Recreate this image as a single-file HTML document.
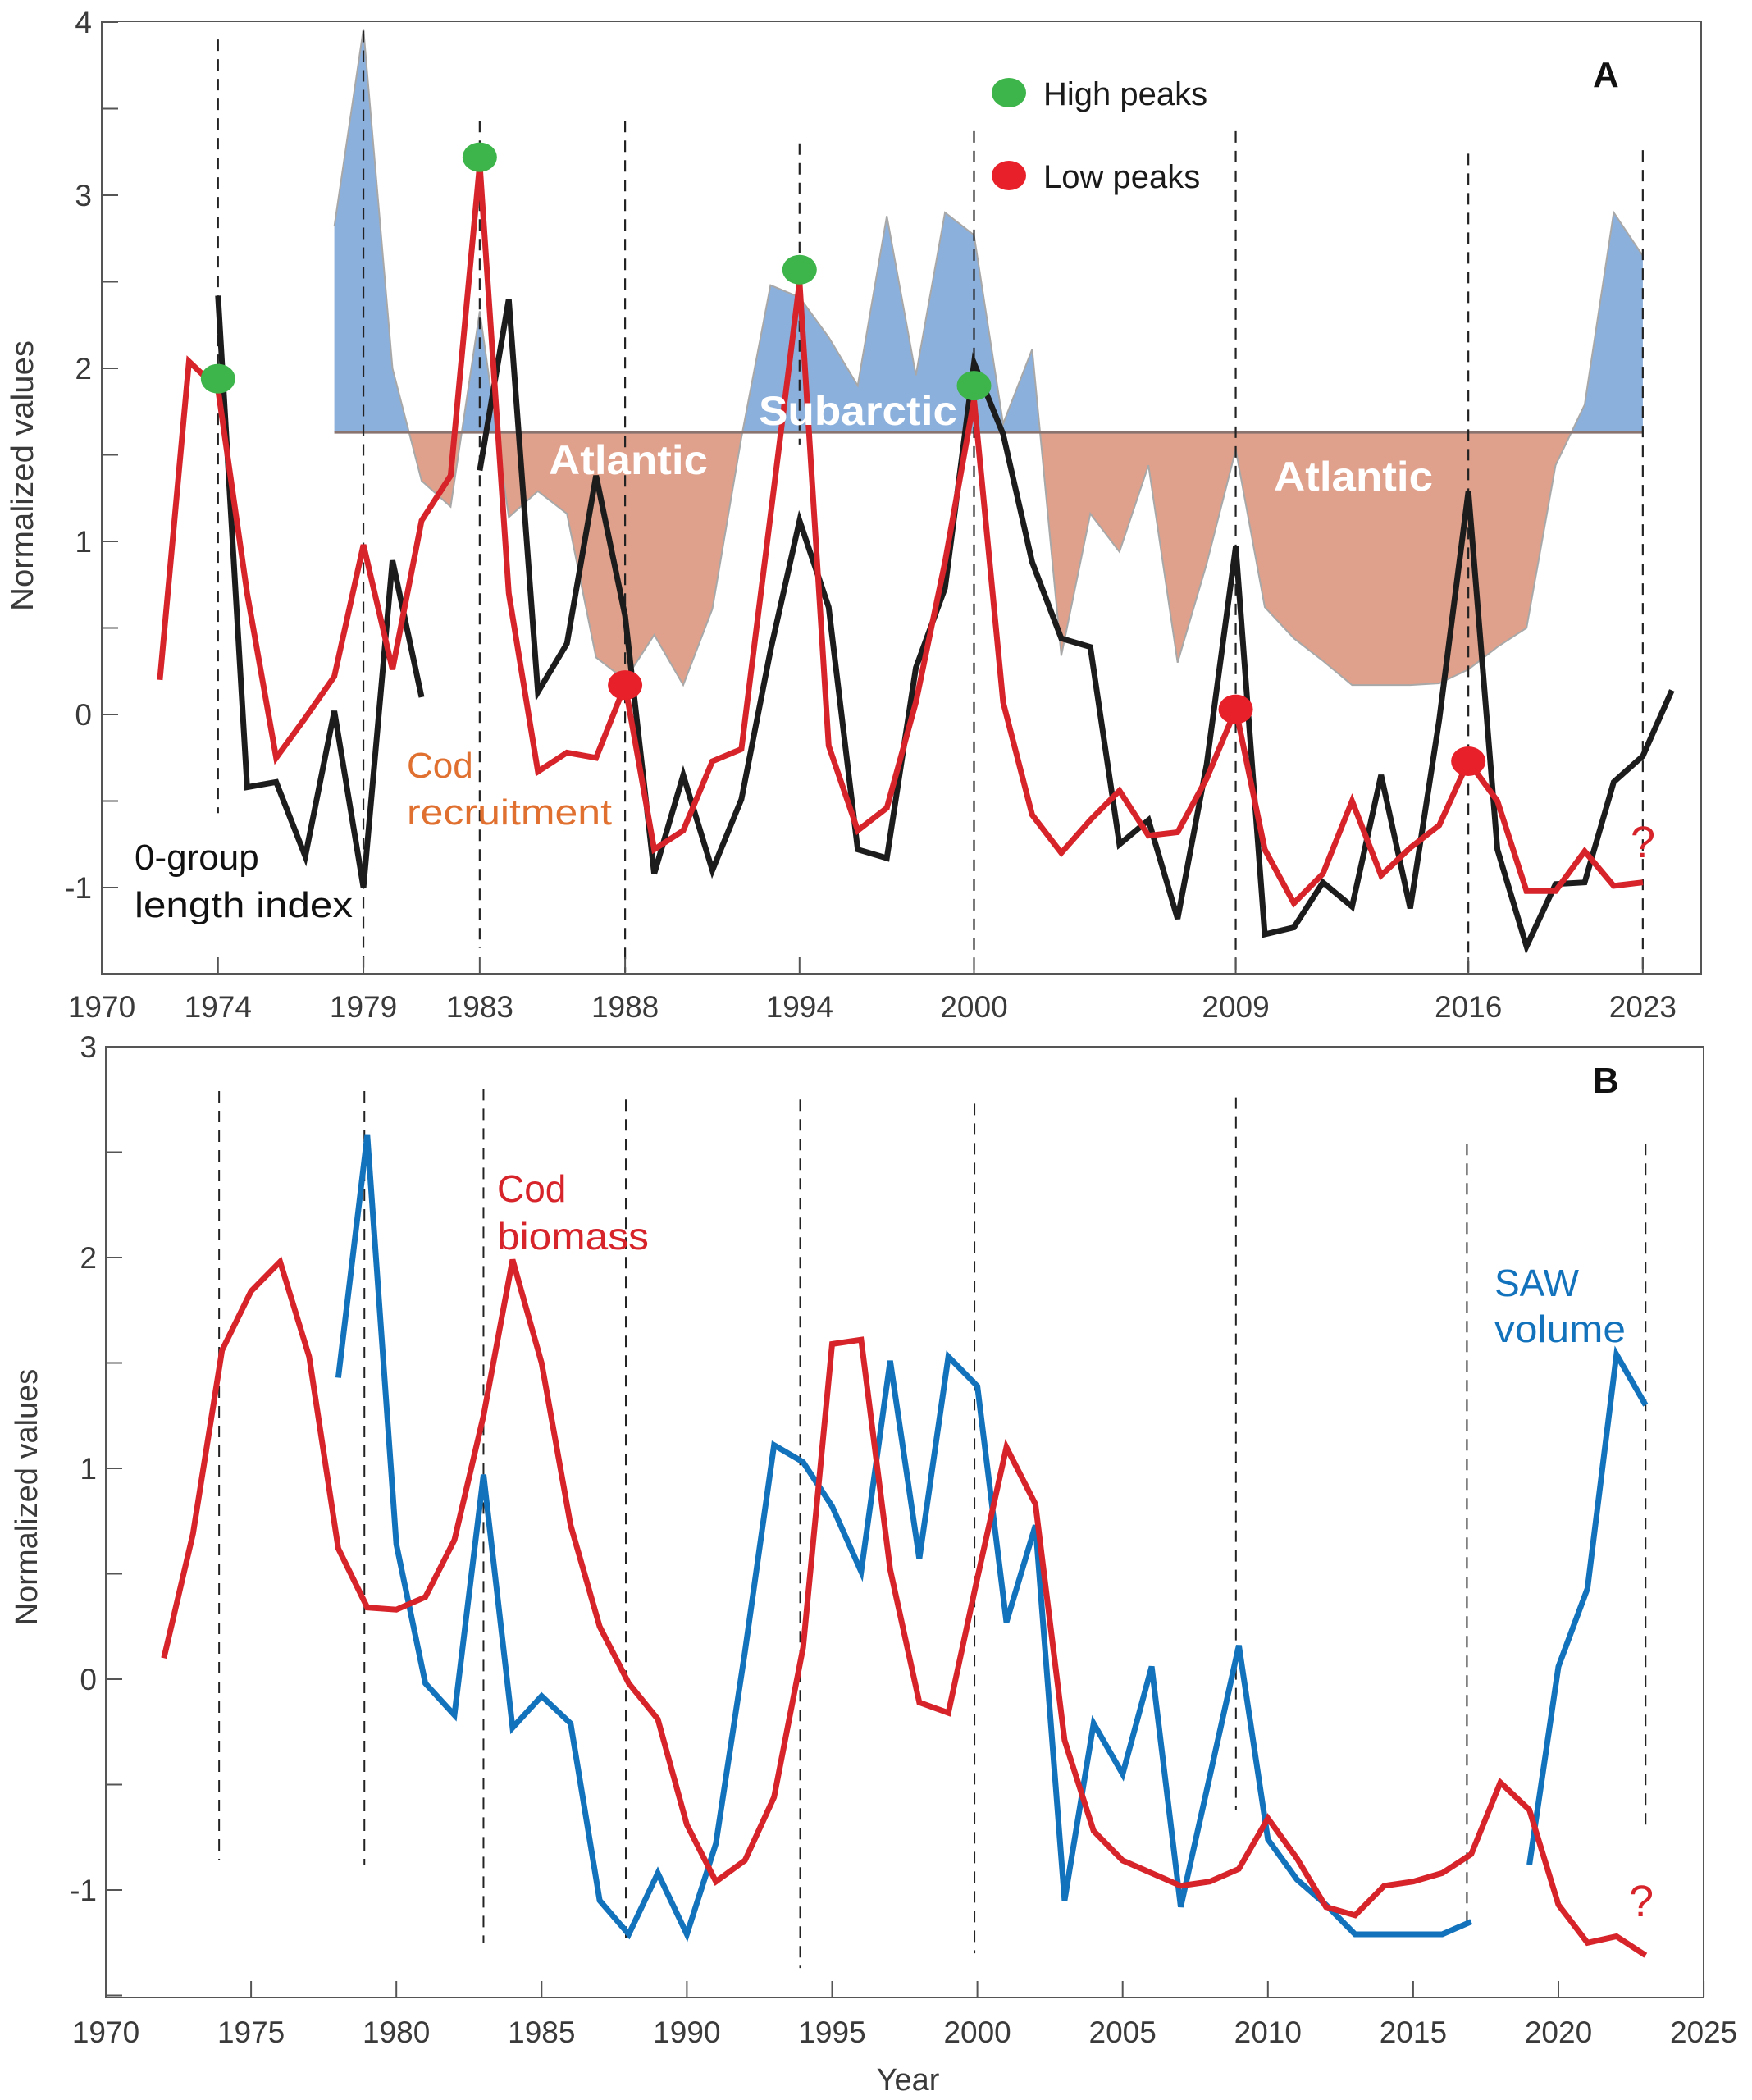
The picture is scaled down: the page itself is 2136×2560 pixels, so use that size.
<!DOCTYPE html>
<html><head><meta charset="utf-8">
<style>
html,body{margin:0;padding:0;background:#fff;}
svg{display:block;}
text{font-family:"Liberation Sans",Arial,sans-serif;}
</style></head>
<body>
<svg id="chart" width="2136" height="2560" viewBox="0 0 2136 2560" xmlns="http://www.w3.org/2000/svg">
<defs>
<clipPath id="clipAbove"><rect x="0" y="0" width="2136" height="527"/></clipPath>
<clipPath id="clipBelow"><rect x="0" y="527" width="2136" height="700"/></clipPath>
</defs>
<g id="panelA"></g>
<g id="panelB"></g>
</svg>
<script>
// ---------- Panel A data ----------
const recruitYears = [1972,1973,1974,1975,1976,1977,1978,1979,1980,1981,1982,1983,1984,1985,1986,1987,1988,1989,1990,1991,1992,1993,1994,1995,1996,1997,1998,1999,2000,2001,2002,2003,2004,2005,2006,2007,2008,2009,2010,2011,2012,2013,2014,2015,2016,2017,2018,2019,2020,2021,2022,2023];
const recruitValues = [0.2,2.04,1.88,0.7,-0.25,-0.02,0.22,0.98,0.26,1.12,1.38,3.18,0.7,-0.33,-0.22,-0.25,0.17,-0.78,-0.67,-0.27,-0.2,1.15,2.5,-0.18,-0.67,-0.54,0.07,0.88,1.82,0.07,-0.58,-0.8,-0.61,-0.44,-0.7,-0.68,-0.37,0.03,-0.78,-1.09,-0.92,-0.5,-0.93,-0.77,-0.64,-0.27,-0.5,-1.02,-1.02,-0.79,-0.99,-0.97];
const lengthYears1 = [1974,1975,1976,1977,1978,1979,1980,1981];
const lengthValues1 = [2.42,-0.42,-0.39,-0.82,0.02,-1.0,0.89,0.1];
const lengthYears2 = [1983,1984,1985,1986,1987,1988,1989,1990,1991,1992,1993,1994,1995,1996,1997,1998,1999,2000,2001,2002,2003,2004,2005,2006,2007,2008,2009,2010,2011,2012,2013,2014,2015,2016,2017,2018,2019,2020,2021,2022,2023,2024];
const lengthValues2 = [1.41,2.4,0.13,0.41,1.38,0.57,-0.92,-0.35,-0.9,-0.49,0.37,1.12,0.62,-0.78,-0.83,0.27,0.73,2.03,1.62,0.88,0.44,0.39,-0.75,-0.61,-1.18,-0.29,0.97,-1.27,-1.23,-0.97,-1.11,-0.35,-1.12,-0.03,1.29,-0.78,-1.34,-0.98,-0.97,-0.39,-0.24,0.14];
const areaYears = [1978,1979,1980,1981,1982,1983,1984,1985,1986,1987,1988,1989,1990,1991,1992,1993,1994,1995,1996,1997,1998,1999,2000,2001,2002,2003,2004,2005,2006,2007,2008,2009,2010,2011,2012,2013,2014,2015,2016,2017,2018,2019,2020,2021,2022,2023];
const areaValues = [2.82,3.96,2.0,1.35,1.2,2.33,1.14,1.29,1.16,0.33,0.2,0.46,0.17,0.61,1.6,2.48,2.41,2.18,1.9,2.88,1.96,2.9,2.77,1.68,2.11,0.34,1.16,0.94,1.44,0.3,0.87,1.53,0.62,0.44,0.31,0.17,0.17,0.17,0.18,0.26,0.39,0.5,1.44,1.79,2.9,2.65];
const areaBaseline = 1.63;
const highPeakYears = [1974,1983,1994,2000];
const highPeakValues = [1.94,3.22,2.57,1.9];
const lowPeakYears = [1988,2009,2017];
const lowPeakValues = [0.17,0.03,-0.27];
const aTickPos = [1970,1974,1979,1983,1988,1994,2000,2009,2017,2023];
const aTickLabels = ["1970","1974","1979","1983","1988","1994","2000","2009","2016","2023"];
const aYTicks = [-1,0,1,2,3,4];
const aDashYears = [1974,1979,1983,1988,1994,2000,2009,2017,2023];
const aDashTop = [3.9,3.95,3.43,3.43,3.3,3.37,3.37,3.24,3.26];
const aDashBottom = [-0.57,-1.49,-1.35,-1.49,1.56,-1.49,-1.49,-1.49,-1.49];

// ---------- Panel B data ----------
const biomassYears = [1972,1973,1974,1975,1976,1977,1978,1979,1980,1981,1982,1983,1984,1985,1986,1987,1988,1989,1990,1991,1992,1993,1994,1995,1996,1997,1998,1999,2000,2001,2002,2003,2004,2005,2006,2007,2008,2009,2010,2011,2012,2013,2014,2015,2016,2017,2018,2019,2020,2021,2022,2023];
const biomassValues = [0.1,0.69,1.56,1.84,1.98,1.53,0.62,0.34,0.33,0.39,0.66,1.25,1.99,1.5,0.73,0.25,-0.02,-0.19,-0.69,-0.96,-0.86,-0.56,0.15,1.59,1.61,0.52,-0.11,-0.16,0.48,1.1,0.83,-0.29,-0.72,-0.86,-0.92,-0.98,-0.96,-0.9,-0.66,-0.85,-1.08,-1.12,-0.98,-0.96,-0.92,-0.83,-0.49,-0.62,-1.07,-1.25,-1.22,-1.31];
const sawYears1 = [1978,1979,1980,1981,1982,1983,1984,1985,1986,1987,1988,1989,1990,1991,1992,1993,1994,1995,1996,1997,1998,1999,2000,2001,2002,2003,2004,2005,2006,2007,2008,2009,2010,2011,2012,2013,2014,2015,2016,2017];
const sawValues1 = [1.43,2.58,0.64,-0.02,-0.17,0.97,-0.23,-0.08,-0.21,-1.05,-1.21,-0.92,-1.21,-0.78,0.13,1.11,1.03,0.82,0.51,1.51,0.57,1.53,1.39,0.27,0.73,-1.05,-0.21,-0.45,0.06,-1.08,-0.46,0.16,-0.76,-0.95,-1.07,-1.21,-1.21,-1.21,-1.21,-1.15];
const sawYears2 = [2019,2020,2021,2022,2023];
const sawValues2 = [-0.88,0.06,0.43,1.54,1.3];
const bTickYears = [1970,1975,1980,1985,1990,1995,2000,2005,2010,2015,2020,2025];
const bYTicks = [-1,0,1,2,3];
const bDashYears = [1973.9,1978.9,1983,1987.9,1993.9,1999.9,2008.9,2016.85,2023];
const bDashTop = [2.79,2.79,2.8,2.75,2.75,2.73,2.76,2.54,2.54];
const bDashBottom = [-0.86,-0.88,-1.25,-1.25,-1.37,-1.3,-0.62,-1.16,-0.7];

// ---------- axes ----------
const A = {x0:124, px:35.45, y0:871, py:211, left:124, right:2074, top:26, bottom:1187};
const B = {x0:129, px:35.42, y0:2047, py:257, left:129, right:2077, top:1276, bottom:2435};
function xA(yr){return A.x0+(yr-1970)*A.px;}
function yA(v){return A.y0-v*A.py;}
function xB(yr){return B.x0+(yr-1970)*B.px;}
function yB(v){return B.y0-v*B.py;}

const NS="http://www.w3.org/2000/svg";
function mk(parent,tag,attrs,txt){const e=document.createElementNS(NS,tag);for(const k in attrs)e.setAttribute(k,attrs[k]);if(txt!==undefined)e.textContent=txt;parent.appendChild(e);return e;}
function pts(xs,ys,fx,fy){return xs.map((x,i)=>fx(x).toFixed(1)+","+fy(ys[i]).toFixed(1)).join(" ");}

const gA=document.getElementById('panelA');
const gB=document.getElementById('panelB');

// ===== Panel A =====
const baseY=yA(areaBaseline);
document.querySelector('#clipAbove rect').setAttribute('height',baseY);
document.querySelector('#clipBelow rect').setAttribute('y',baseY);
let areaPts=xA(areaYears[0]).toFixed(1)+","+baseY.toFixed(1)+" "+pts(areaYears,areaValues,xA,yA)+" "+xA(areaYears[areaYears.length-1]).toFixed(1)+","+baseY.toFixed(1);
const ab=mk(gA,'polygon',{points:areaPts,fill:'#8cb0dc','clip-path':'url(#clipAbove)'});


const bl=mk(gA,'polygon',{points:areaPts,fill:'#dfa18b','clip-path':'url(#clipBelow)'});


const ae=mk(gA,'polyline',{points:pts(areaYears,areaValues,xA,yA),fill:'none',stroke:'#a8a8a8','stroke-width':2});


const bline=mk(gA,'line',{x1:xA(areaYears[0]),x2:xA(areaYears[areaYears.length-1]),y1:baseY,y2:baseY,stroke:'#8a7470','stroke-width':3});



// dashed lines A
aDashYears.forEach((yr,i)=>{
  const d=mk(gA,'line',{x1:xA(yr),x2:xA(yr),y1:yA(aDashTop[i]),y2:Math.min(yA(aDashBottom[i]),A.bottom),stroke:'#222','stroke-width':2.2,'stroke-dasharray':'14,10'});
  
  
});

// series A
const lb1=mk(gA,'polyline',{points:pts(lengthYears1,lengthValues1,xA,yA),fill:'none',stroke:'#1c1c1c','stroke-width':7});


const lb2=mk(gA,'polyline',{points:pts(lengthYears2,lengthValues2,xA,yA),fill:'none',stroke:'#1c1c1c','stroke-width':7});


const lr=mk(gA,'polyline',{points:pts(recruitYears,recruitValues,xA,yA),fill:'none',stroke:'#d7232a','stroke-width':7});



// area labels (on top of lines)
const t1=mk(gA,'text',{x:669,y:578,'font-size':50,'font-weight':'bold',fill:'#fff',textLength:194,lengthAdjust:'spacingAndGlyphs'},'Atlantic');


const t2=mk(gA,'text',{x:925,y:518,'font-size':50,'font-weight':'bold',fill:'#fff',textLength:242,lengthAdjust:'spacingAndGlyphs'},'Subarctic');


const t3=mk(gA,'text',{x:1553,y:598,'font-size':50,'font-weight':'bold',fill:'#fff',textLength:194,lengthAdjust:'spacingAndGlyphs'},'Atlantic');



// peaks
highPeakYears.forEach((yr,i)=>{
  const e=mk(gA,'ellipse',{cx:xA(yr),cy:yA(highPeakValues[i]),rx:21,ry:18,fill:'#3db54a'});
  
  
});
lowPeakYears.forEach((yr,i)=>{
  const e=mk(gA,'ellipse',{cx:xA(yr),cy:yA(lowPeakValues[i]),rx:21,ry:18,fill:'#e8202a'});
  
  
});

// legend A
const lg1=mk(gA,'ellipse',{cx:1230,cy:113,rx:21,ry:18,fill:'#3db54a'});


const lg1t=mk(gA,'text',{x:1272,y:128,'font-size':40,fill:'#1a1a1a'},'High peaks');


const lg2=mk(gA,'ellipse',{cx:1230,cy:214,rx:21,ry:18,fill:'#e8202a'});


const lg2t=mk(gA,'text',{x:1272,y:229,'font-size':40,fill:'#1a1a1a'},'Low peaks');



// annotations A
const pa=mk(gA,'text',{x:1942,y:106,'font-size':44,'font-weight':'bold',fill:'#111'},'A');


const c1=mk(gA,'text',{x:496,y:948,'font-size':44,fill:'#e0702f'},'Cod');


const c2=mk(gA,'text',{x:496,y:1005,'font-size':44,fill:'#e0702f',textLength:250,lengthAdjust:'spacingAndGlyphs'},'recruitment');


const g1=mk(gA,'text',{x:164,y:1060,'font-size':44,fill:'#111'},'0-group');


const g2=mk(gA,'text',{x:164,y:1118,'font-size':44,fill:'#111',textLength:266,lengthAdjust:'spacingAndGlyphs'},'length index');


const qa=mk(gA,'text',{x:1988,y:1045,'font-size':54,fill:'#d7232a'},'?');



// axes A
const fa=mk(gA,'rect',{x:A.left,y:A.top,width:A.right-A.left,height:A.bottom-A.top,fill:'none',stroke:'#555','stroke-width':2});


for(let v=-1.5; v<=4.001; v+=0.5){
  const t=mk(gA,'line',{x1:A.left,x2:A.left+20,y1:yA(v),y2:yA(v),stroke:'#555','stroke-width':2});
  
  
}
aYTicks.forEach(v=>{
  const t=mk(gA,'text',{x:112,y:yA(v)+13,'font-size':37,fill:'#3a3a3a','text-anchor':'end'},String(v));
  
  
});
aTickPos.forEach((p,i)=>{
  const t=mk(gA,'line',{x1:xA(p),x2:xA(p),y1:A.bottom,y2:A.bottom-20,stroke:'#555','stroke-width':2});
  
  
  const l=mk(gA,'text',{x:xA(p),y:1240,'font-size':37,fill:'#3a3a3a','text-anchor':'middle'},aTickLabels[i]);
  
  
});
const yla=mk(gA,'text',{x:0,y:0,'font-size':38,fill:'#3a3a3a','text-anchor':'middle',transform:'translate(40,580) rotate(-90)',textLength:330,lengthAdjust:'spacingAndGlyphs'},'Normalized values');



// ===== Panel B =====
bDashYears.forEach((yr,i)=>{
  const d=mk(gB,'line',{x1:xB(yr),x2:xB(yr),y1:yB(bDashTop[i]),y2:yB(bDashBottom[i]),stroke:'#222','stroke-width':2,'stroke-dasharray':'14,10'});
  
  
});
const s1=mk(gB,'polyline',{points:pts(sawYears1,sawValues1,xB,yB),fill:'none',stroke:'#1272bb','stroke-width':7});


const s2=mk(gB,'polyline',{points:pts(sawYears2,sawValues2,xB,yB),fill:'none',stroke:'#1272bb','stroke-width':7});


const bm=mk(gB,'polyline',{points:pts(biomassYears,biomassValues,xB,yB),fill:'none',stroke:'#d7232a','stroke-width':7});



const fb=mk(gB,'rect',{x:B.left,y:B.top,width:B.right-B.left,height:B.bottom-B.top,fill:'none',stroke:'#555','stroke-width':2});


for(let v=-1.5; v<=3.001; v+=0.5){
  const t=mk(gB,'line',{x1:B.left,x2:B.left+20,y1:yB(v),y2:yB(v),stroke:'#555','stroke-width':2});
  
  
}
bYTicks.forEach(v=>{
  const t=mk(gB,'text',{x:118,y:yB(v)+13,'font-size':37,fill:'#3a3a3a','text-anchor':'end'},String(v));
  
  
});
bTickYears.forEach(p=>{
  const t=mk(gB,'line',{x1:xB(p),x2:xB(p),y1:B.bottom,y2:B.bottom-20,stroke:'#555','stroke-width':2});
  
  
  const l=mk(gB,'text',{x:xB(p),y:2490,'font-size':37,fill:'#3a3a3a','text-anchor':'middle'},String(p));
  
  
});
const xlb=mk(gB,'text',{x:1107,y:2548,'font-size':38,fill:'#3a3a3a','text-anchor':'middle'},'Year');


const ylb=mk(gB,'text',{x:0,y:0,'font-size':38,fill:'#3a3a3a','text-anchor':'middle',transform:'translate(45,1825) rotate(-90)'},'Normalized values');


const pb=mk(gB,'text',{x:1942,y:1332,'font-size':44,'font-weight':'bold',fill:'#111'},'B');


const cb1=mk(gB,'text',{x:606,y:1465,'font-size':46,fill:'#d7232a'},'Cod');


const cb2=mk(gB,'text',{x:606,y:1523,'font-size':46,fill:'#d7232a',textLength:185,lengthAdjust:'spacingAndGlyphs'},'biomass');


const sw1=mk(gB,'text',{x:1822,y:1580,'font-size':46,fill:'#1272bb'},'SAW');


const sw2=mk(gB,'text',{x:1822,y:1636,'font-size':46,fill:'#1272bb',textLength:160,lengthAdjust:'spacingAndGlyphs'},'volume');


const qb=mk(gB,'text',{x:1986,y:2336,'font-size':54,fill:'#d7232a'},'?');


</script>
</body></html>
